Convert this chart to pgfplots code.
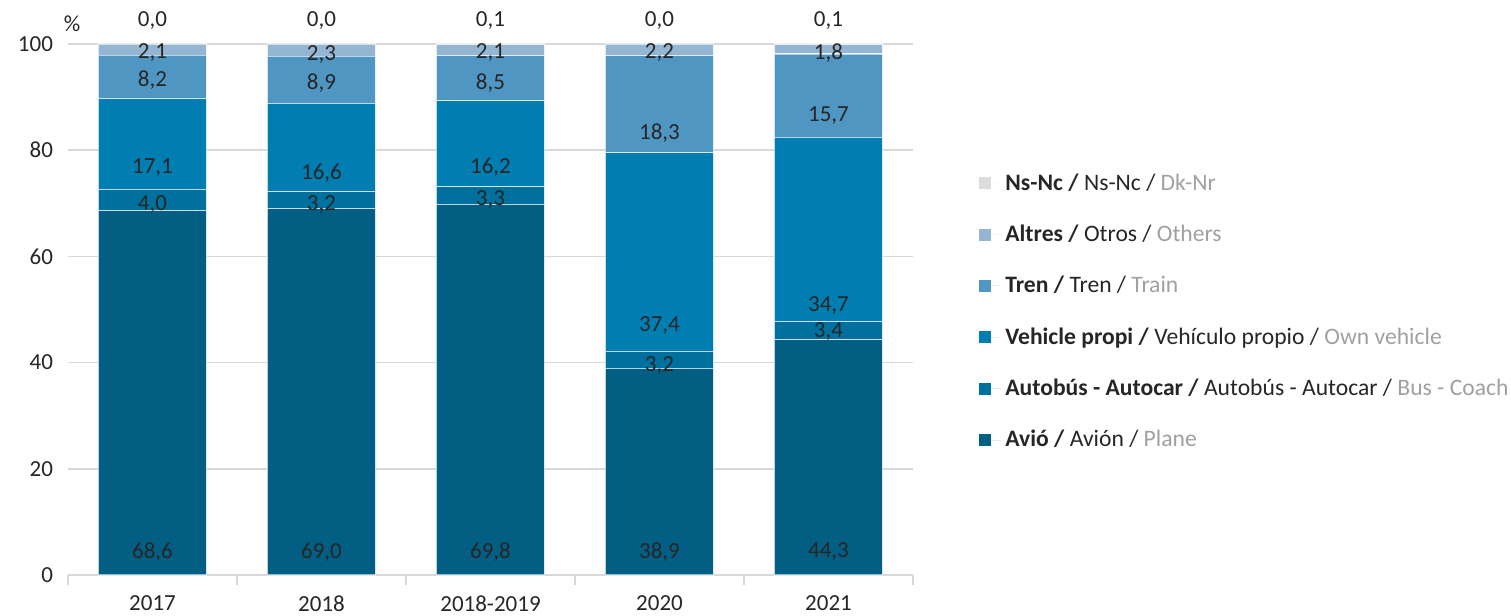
\documentclass[border=0pt]{standalone}
\usepackage{fontspec}
\setmainfont{Carlito}
\usepackage{pgfplots}
\pgfplotsset{compat=1.18}

\definecolor{avio}{RGB}{2,94,130}
\definecolor{bus}{RGB}{0,112,158}
\definecolor{vehicle}{RGB}{0,126,178}
\definecolor{tren}{RGB}{80,150,194}
\definecolor{altres}{RGB}{148,182,210}
\definecolor{nsnc}{RGB}{218,220,222}
\definecolor{txt}{RGB}{38,38,38}
\definecolor{eng}{RGB}{160,160,160}
\definecolor{gridc}{RGB}{217,217,217}

\begin{document}
\begin{tikzpicture}[font=\fontsize{11.5}{13}\selectfont]
\useasboundingbox (-34pt,-20.5pt) rectangle (721.5pt,287.5pt);
\begin{axis}[
    scale only axis,
    width=422.5pt, height=265.5pt,
    xmin=-0.5, xmax=4.5, ymin=0, ymax=100,
    ybar stacked, bar width=54pt,
    /pgf/number format/assume math mode=true,
    xtick={0,1,2,3,4},
    xticklabels={2017,2018,2018-2019,2020,2021},
    minor xtick={-0.5,0.5,1.5,2.5,3.5,4.5},
    major x tick style={draw=none},
    minor x tick style={draw=gridc, line width=0.8pt},
    minor tick length=5pt,
    xtick align=outside,
    x tick label style={yshift=-2.5pt, text=txt},
    ytick={0,20,...,100},
    y tick label style={text=txt, xshift=-4pt},
    major y tick style={draw=none},
    axis x line*=bottom,
    axis y line*=left,
    y axis line style={draw=none},
    x axis line style={draw=gridc, line width=0.8pt},
    ymajorgrids, grid style={gridc, line width=0.8pt},
    every axis plot/.append style={draw=white, draw opacity=0.6, line width=0.6pt},
    legend cell align=left,
    reverse legend,
    legend style={at={(rel axis cs:1.071,0.772)}, anchor=north west,
        draw=none, fill=none, row sep=11.9pt, text=txt,
        font=\fontsize{11.8}{13}\selectfont},
    legend image code/.code={\fill[#1, draw=none] (0pt,-3pt) rectangle (6pt,3pt); \path[draw=none] (0pt,0pt) -- (11pt,0pt);},
]
\addplot[fill=avio] coordinates {(0,68.6) (1,69.0) (2,69.8) (3,38.9) (4,44.3)};
\addplot[fill=bus] coordinates {(0,4.0) (1,3.2) (2,3.3) (3,3.2) (4,3.4)};
\addplot[fill=vehicle] coordinates {(0,17.1) (1,16.6) (2,16.2) (3,37.4) (4,34.7)};
\addplot[fill=tren] coordinates {(0,8.2) (1,8.9) (2,8.5) (3,18.3) (4,15.7)};
\addplot[fill=altres] coordinates {(0,2.1) (1,2.3) (2,2.1) (3,2.2) (4,1.8)};
\addplot[fill=nsnc] coordinates {(0,0.0) (1,0.0) (2,0.1) (3,0.0) (4,0.1)};
\legend{
  {\textbf{Avió /} Avión / \textcolor{eng}{Plane}},
  {\textbf{Autobús - Autocar /} Autobús - Autocar / \textcolor{eng}{Bus - Coach}},
  {\textbf{Vehicle propi /} Vehículo propio / \textcolor{eng}{Own vehicle}},
  {\textbf{Tren /} Tren / \textcolor{eng}{Train}},
  {\textbf{Altres /} Otros / \textcolor{eng}{Others}},
  {\textbf{Ns-Nc /} Ns-Nc / \textcolor{eng}{Dk-Nr}}}
\end{axis}
\node[text=txt] at (2pt,275.5pt) {\%};
\begin{axis}[
    scale only axis, hide axis, clip=false,
    width=422.5pt, height=265.5pt,
    xmin=-0.5, xmax=4.5, ymin=0, ymax=100,
]
\addplot[draw=none, nodes near coords, point meta=explicit symbolic,
    every node near coord/.append style={anchor=center, text=txt, inner sep=0pt, yshift=-1.5pt}]
  table[meta=label] {
x y label
0 104.9 0,0
0 98.9 2,1
0 93.8 8,2
0 77.2 17,1
0 70.4 4,0
0 4.9 68,6
1 104.9 0,0
1 98.5 2,3
1 93.2 8,9
1 76.3 16,6
1 70.4 3,2
1 4.9 69,0
2 104.9 0,1
2 98.9 2,1
2 93.2 8,5
2 77.4 16,2
2 71.2 3,3
2 4.9 69,8
3 104.9 0,0
3 98.9 2,2
3 83.8 18,3
3 47.5 37,4
3 40.1 3,2
3 4.9 38,9
4 104.9 0,1
4 98.9 1,8
4 87.0 15,7
4 51.4 34,7
4 46.5 3,4
4 4.9 44,3
};
\end{axis}
\end{tikzpicture}
\end{document}
